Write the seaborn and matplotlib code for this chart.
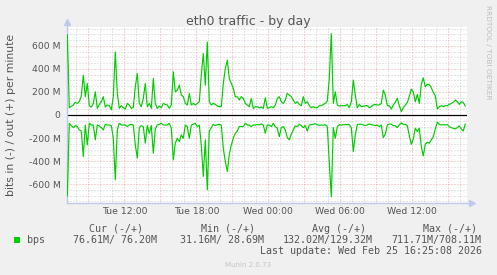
import numpy as np
import pandas as pd
import matplotlib
matplotlib.use("Agg")
import matplotlib.pyplot as plt
import matplotlib.dates as mdates
from matplotlib.ticker import MultipleLocator, FuncFormatter
from matplotlib.patches import Rectangle
import seaborn as sns

# ---------------- data ----------------
title = "eth0 traffic - by day"
ylabel = "bits in (-) / out (+) per minute"
start = "2026-02-24 07:15"
step = "10min"

# out (+) traffic, Mbit/s, one reading every 10 minutes
out_mbps = [
    698, 63, 75, 87, 110, 101, 115, 165, 346, 159, 274, 81, 69, 98, 202, 58, 92,
    115, 159, 69, 87, 81, 46, 159, 548, 188, 58, 81, 63, 52, 101, 87, 58, 66,
    245, 361, 101, 72, 144, 274, 72, 101, 58, 317, 101, 58, 78, 63, 101, 92, 87,
    58, 87, 375, 202, 216, 260, 173, 159, 101, 87, 188, 87, 101, 87, 101, 115,
    346, 534, 260, 635, 115, 87, 101, 92, 78, 72, 72, 274, 404, 476, 317, 274,
    231, 159, 159, 130, 159, 144, 101, 87, 72, 144, 58, 72, 72, 63, 69, 58, 150,
    58, 63,
    72, 63, 87, 144, 159, 115, 101, 130, 188, 173, 159, 130, 101, 115, 92, 81,
    159, 101, 115, 81, 63, 72, 63, 63, 81, 81, 92, 101, 121, 317, 708, 101, 202,
    87, 78, 81, 81, 81, 92, 63, 115, 303, 173, 63, 92, 72, 75, 81, 81, 63, 72,
    87, 92, 87, 87, 101, 216, 173, 81, 81, 52, 87, 110, 144, 81, 29, 63, 87, 110,
    162, 225, 202, 115, 179, 101, 266, 323, 245, 266, 266, 237, 196, 167, 52, 72,
    81, 72, 81, 81, 92, 101, 110, 130, 115, 92, 115, 110, 76,
]
# in (-) traffic, Mbit/s, same timestamps (drawn mirrored below zero)
in_mbps = [
    705, 72, 92, 110, 92, 101, 130, 139, 361, 87, 260, 72, 87, 87, 216, 87, 95,
    110, 130, 81, 87, 87, 92, 202, 563, 130, 72, 87, 87, 87, 101, 87, 81, 87,
    260, 375, 110, 92, 101, 245, 92, 159, 92, 332, 121, 87, 81, 72, 87, 87, 87,
    72, 115, 390, 245, 202, 231, 173, 202, 87, 101, 202, 87, 81, 72, 101, 87,
    260, 534, 216, 650, 139, 110, 81, 92, 84, 81, 87, 289, 404, 491, 346, 260,
    202, 159, 139, 101, 101, 101, 72, 87, 87, 101, 87, 87, 81, 87, 78, 87, 159,
    87, 87,
    101, 72, 101, 115, 188, 110, 101, 130, 196, 216, 167, 130, 95, 101, 81, 92,
    110, 92, 139, 87, 84, 81, 75, 84, 89, 87, 89, 84, 101, 418, 711, 110, 202,
    101, 84, 89, 84, 84, 81, 84, 110, 317, 173, 84, 81, 81, 87, 92, 87, 78, 84,
    87, 92, 87, 101, 87, 196, 167, 87, 78, 81, 92, 92, 110, 84, 69, 81, 81, 92,
    179, 254, 208, 115, 144, 115, 274, 355, 254, 237, 245, 216, 188, 121, 63, 81,
    87, 84, 87, 84, 101, 110, 115, 121, 110, 95, 121, 139, 77,
]

ytick_vals = [-600, -400, -200, 0, 200, 400, 600]
ytick_labels = ["-600 M", "-400 M", "-200 M", "0", "200 M", "400 M", "600 M"]
xtick_times = ["2026-02-24 12:00", "2026-02-24 18:00", "2026-02-25 00:00",
               "2026-02-25 06:00", "2026-02-25 12:00"]
xtick_labels = ["Tue 12:00", "Tue 18:00", "Wed 00:00", "Wed 06:00", "Wed 12:00"]

legend_name = "bps"
col_headers = ["Cur (-/+)", "Min (-/+)", "Avg (-/+)", "Max (-/+)"]
col_values = ["76.61M/ 76.20M", "31.16M/ 28.69M", "132.02M/129.32M", "711.71M/708.11M"]
last_update = "Last update: Wed Feb 25 16:25:08 2026"
footer = "Munin 2.0.73"
watermark = "RRDTOOL / TOBI OETIKER"

# ---------------- style ----------------
W, H = 497, 275
BG = "#F0F0F0"
TXT = "#555555"
GREEN = "#00CC00"
GRID = "#CACACA"
MGRID = "#F0A4A4"
AXIS = "#C0C8F0"

sns.set_style("white")
plt.rcParams["font.family"] = ["DejaVu Sans"]

fig = plt.figure(figsize=(W / 100, H / 100), dpi=100, facecolor=BG)
ax = fig.add_axes([67 / W, 1 - 203 / H, 400 / W, 176 / H])
ax.set_facecolor("white")

times = pd.date_range(start, periods=len(out_mbps), freq=step)
df = pd.DataFrame({"time": times,
                   "out": np.asarray(out_mbps, dtype=float),
                   "in": -np.asarray(in_mbps, dtype=float)})

ax.axhline(0, color="black", linewidth=0.9, zorder=2)
sns.lineplot(data=df, x="time", y="out", ax=ax, color=GREEN, linewidth=0.85,
             estimator=None, zorder=3)
sns.lineplot(data=df, x="time", y="in", ax=ax, color=GREEN, linewidth=0.85,
             estimator=None, zorder=3)

ax.set_xlim(pd.Timestamp("2026-02-24 07:13:30"), pd.Timestamp("2026-02-25 16:33:30"))
ax.set_ylim(-765, 765)
ax.set_xlabel("")
ax.set_ylabel("")

# y axis
ax.set_yticks(ytick_vals, ytick_labels)
ax.yaxis.set_minor_locator(MultipleLocator(50))

# x axis
label_map = {pd.Timestamp(t): l for t, l in zip(xtick_times, xtick_labels)}
ax.xaxis.set_major_locator(mdates.HourLocator(byhour=range(0, 24, 3)))
ax.xaxis.set_minor_locator(mdates.HourLocator())


def xfmt(v, pos):
    t = pd.Timestamp(mdates.num2date(v).replace(tzinfo=None)).round("min")
    return label_map.get(t, "")


ax.xaxis.set_major_formatter(FuncFormatter(xfmt))

ax.set_axisbelow(True)
ax.grid(which="major", color=MGRID, linestyle=(0, (1, 2)), linewidth=0.72)
ax.grid(which="minor", color=GRID, linestyle=(0, (1, 2)), linewidth=0.72)

ax.tick_params(which="major", length=2.2, width=0.7, color=MGRID,
               labelsize=6.7, labelcolor=TXT)
ax.tick_params(which="minor", length=1.5, width=0.7, color=GRID)
ax.tick_params(axis="x", which="major", pad=1.0)
ax.tick_params(axis="y", which="major", pad=2.5)

for s in ("top", "right"):
    ax.spines[s].set_visible(False)
for s in ("left", "bottom"):
    ax.spines[s].set_color(AXIS)
    ax.spines[s].set_linewidth(1.0)

# axis arrows
ax.plot([0, 0], [1, 1.02], transform=ax.transAxes, color=AXIS, lw=1.0, clip_on=False)
ax.plot([0], [1.03], transform=ax.transAxes, marker="^", markersize=4.5,
        color=AXIS, clip_on=False, linestyle="none")
ax.plot([1, 1.008], [0, 0], transform=ax.transAxes, color=AXIS, lw=1.0, clip_on=False)
ax.plot([1.012], [0], transform=ax.transAxes, marker=">", markersize=4.5,
        color=AXIS, clip_on=False, linestyle="none")

# texts
fig.text(0.5, 1 - 24.5 / H, title, ha="center", va="baseline", fontsize=9, color=TXT)
fig.text(11.5 / W, 1 - 114.5 / H, ylabel, rotation=90, ha="center", va="center",
         fontsize=7.8, color=TXT)
fig.text(488 / W, 1 - 5 / H, watermark, rotation=270, ha="center", va="top",
         fontsize=5.3, color="#BDBDBD")

mono = "DejaVu Sans Mono"
header_cx = [116, 228, 338.6, 449.7]
for hdr, cx in zip(col_headers, header_cx):
    fig.text(cx / W, 1 - 231.6 / H, hdr, ha="center", va="baseline",
             fontsize=7.2, family=mono, color=TXT)

values_x = [72.7, 180, 283, 391.7]
for val, x0 in zip(col_values, values_x):
    fig.text(x0 / W, 1 - 243.3 / H, val, ha="left", va="baseline",
             fontsize=7.2, family=mono, color=TXT)

fig.patches.append(Rectangle((14 / W, 1 - 242.5 / H), 6 / W, 6 / H,
                             transform=fig.transFigure, facecolor=GREEN,
                             edgecolor="none"))
fig.text(26.7 / W, 1 - 243.3 / H, legend_name, ha="left", va="baseline",
         fontsize=7.2, family=mono, color=TXT)
fig.text(482.5 / W, 1 - 253.5 / H, last_update, ha="right", va="baseline",
         fontsize=7.2, family=mono, color=TXT)
fig.text(248 / W, 1 - 266.7 / H, footer, ha="center", va="baseline",
         fontsize=5, color="#C4C4C4")

fig.savefig("out.png", dpi=100, facecolor=BG)
